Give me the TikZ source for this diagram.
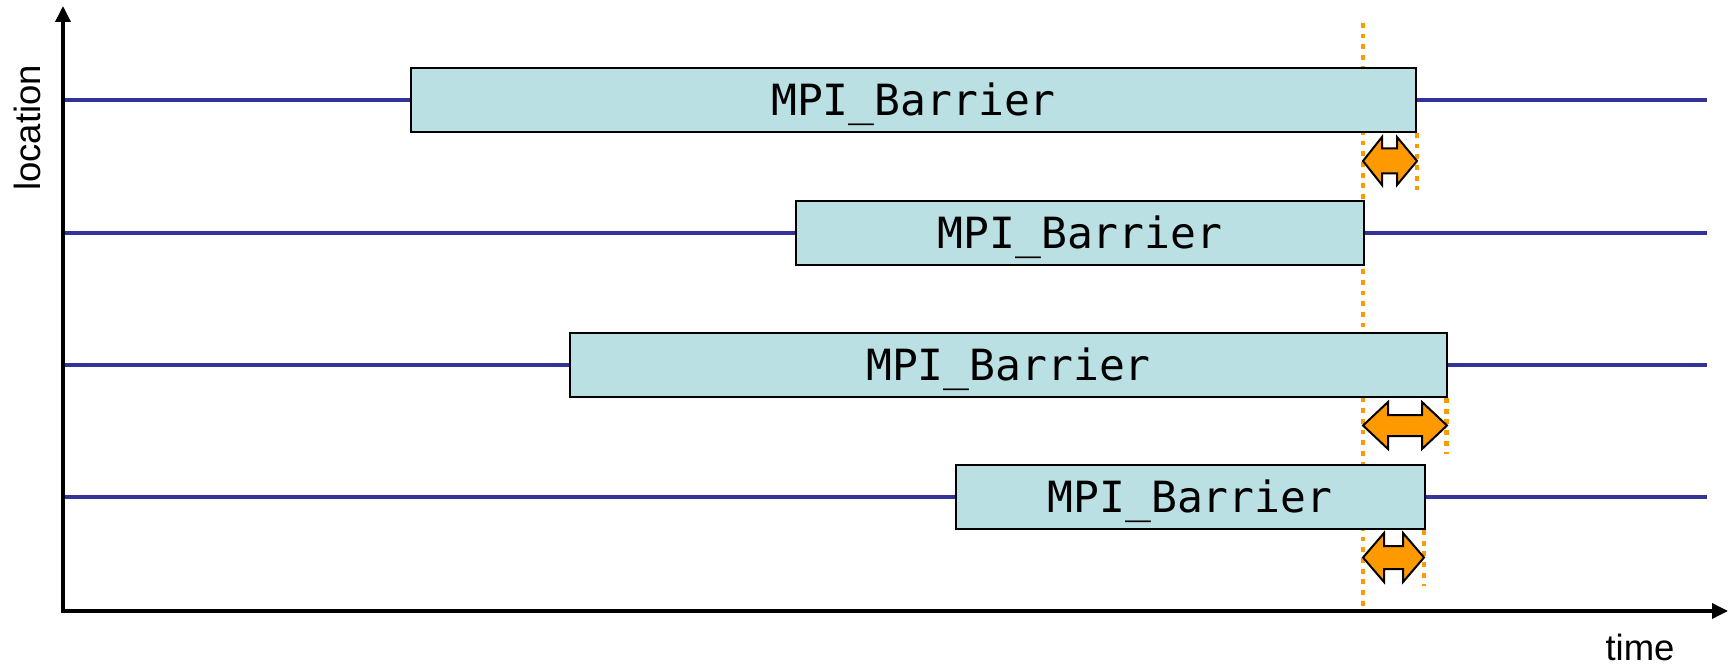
\documentclass[tikz,border=0pt]{standalone}
\usepackage{fontspec}
\setmainfont{Liberation Sans}
\newfontfamily\monof{DejaVu Sans Mono}
\usetikzlibrary{arrows.meta}
\definecolor{tlblue}{RGB}{51,51,153}
\definecolor{boxfill}{RGB}{187,224,227}
\definecolor{orng}{RGB}{255,153,0}
\begin{document}
\begin{tikzpicture}[x=1pt,y=-1pt,
  barrier/.style={draw=black, line width=2pt, fill=boxfill, rectangle, inner sep=0pt,
    minimum height=64pt, font=\monof\fontsize{43}{43}\selectfont, text height=31.3pt, text depth=0pt},
  tline/.style={draw=tlblue, line width=3.4pt},
  axisline/.style={draw=black, line width=3.5pt, line join=miter},
  guide/.style={draw=orng, line width=4.8pt, dash pattern=on 4.8pt off 5.9pt},
  gaparrow/.style={draw=black, line width=2pt, fill=orng, line join=miter},
  lbl/.style={font=\fontsize{36.5}{36.5}\selectfont, inner sep=0pt}]
\useasboundingbox (0,0) rectangle (1733,666);

% orange guide lines (behind boxes)
\coordinate (gtop) at (1363,23);
\coordinate (gbot) at (1363,611);
\draw[guide] (gtop) -- (gbot);
\coordinate (g1a) at (1417,133); \coordinate (g1b) at (1417,190);
\coordinate (g2a) at (1446.5,398); \coordinate (g2b) at (1446.5,454);
\coordinate (g3a) at (1424,530); \coordinate (g3b) at (1424,586);
\draw[guide] (g1a) -- (g1b);
\draw[guide] (g2a) -- (g2b);
\draw[guide] (g3a) -- (g3b);

% boxes
\node[barrier, minimum width=1005pt] (b1) at (913.5,100) {MPI\_Barrier};
\node[barrier, minimum width=568pt]  (b2) at (1080,233) {MPI\_Barrier};
\node[barrier, minimum width=877pt]  (b3) at (1008.5,365) {MPI\_Barrier};
\node[barrier, minimum width=469pt]  (b4) at (1190,497) {MPI\_Barrier};

% timelines
\coordinate (s1) at (63,100);  \coordinate (e1) at (1707,100);
\coordinate (s2) at (63,233);  \coordinate (e2) at (1707,233);
\coordinate (s3) at (63,365);  \coordinate (e3) at (1707,365);
\coordinate (s4) at (63,497);  \coordinate (e4) at (1707,497);
\draw[tline] (s1) -- (b1.west);  \draw[tline] (b1.east) -- (e1);
\draw[tline] (s2) -- (b2.west);  \draw[tline] (b2.east) -- (e2);
\draw[tline] (s3) -- (b3.west);  \draw[tline] (b3.east) -- (e3);
\draw[tline] (s4) -- (b4.west);  \draw[tline] (b4.east) -- (e4);

% waiting-time double arrows
\draw[gaparrow] (1363,161) -- (1382,137) -- (1382,148.5) -- (1397,148.5) -- (1397,137)
  -- (1417,161) -- (1397,185) -- (1397,173.5) -- (1382,173.5) -- (1382,185) -- cycle;
\draw[gaparrow] (1363,425.5) -- (1388,402) -- (1388,415) -- (1422,415) -- (1422,402)
  -- (1447,425.5) -- (1422,449) -- (1422,436) -- (1388,436) -- (1388,449) -- cycle;
\draw[gaparrow] (1363,557.5) -- (1384,533) -- (1384,546) -- (1403,546) -- (1403,533)
  -- (1424,557.5) -- (1403,582) -- (1403,569) -- (1384,569) -- (1384,582) -- cycle;

% axes
\coordinate (ytop) at (63,6);
\coordinate (orig) at (63,611);
\coordinate (xend) at (1728,611);
\draw[axisline, {Triangle[length=16pt,width=15pt]}-{Triangle[length=16pt,width=15pt]}]
  (ytop) -- (orig) -- (xend);

% axis labels
\node[lbl, rotate=90, anchor=base] (loc) at (40,128) {location};
\node[lbl, anchor=base] (time) at (1640,660) {time};
\end{tikzpicture}
\end{document}
